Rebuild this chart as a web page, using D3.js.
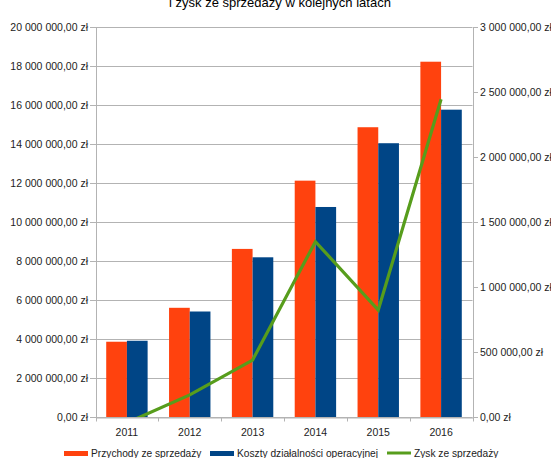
<!DOCTYPE html>
<html>
<head>
<meta charset="utf-8">
<script src="https://cdn.jsdelivr.net/npm/d3@7"></script>
<style>
  body { margin: 0; background: #fff; }
  svg { display: block; font-family: "Liberation Sans", Arial, sans-serif; }
</style>
</head>
<body>
<div id="chart"></div>
<script>
var years = ['2011', '2012', '2013', '2014', '2015', '2016'];
var przychody = [3860000, 5600000, 8620000, 12120000, 14860000, 18220000];
var koszty = [3910000, 5410000, 8190000, 10770000, 14040000, 15760000];
var zysk = [-45000, 170000, 438000, 1349000, 823000, 2444000];
var leftTicks = [0, 2000000, 4000000, 6000000, 8000000, 10000000, 12000000, 14000000, 16000000, 18000000, 20000000];
var rightTicks = [0, 500000, 1000000, 1500000, 2000000, 2500000, 3000000];
var seriesNames = ['Przychody ze sprzedaży', 'Koszty działalności operacyjnej', 'Zysk ze sprzedaży'];
var titleText = 'i zysk ze sprzedaży w kolejnych latach';

var chartW = 551, chartH = 458;
var plotLeft = 95.5, plotRight = 472.5, plotTop = 27, plotBottom = 417;
var colors = ['#ff420e', '#004586', '#579d1c'];
var axisColor = '#b3b3b3';

var pl = d3.formatLocale({decimal: ',', thousands: '\u00a0', grouping: [3], currency: ['', ' zł']});
var fmt = function (v) { return pl.format(',.2f')(v).replace(/\u00a0/g, ' ') + ' zł'; };

var svg = d3.select('#chart').append('svg')
    .attr('width', chartW)
    .attr('height', chartH);

var x = d3.scaleBand().domain(years).range([plotLeft, plotRight]).padding(0);
var yL = d3.scaleLinear().domain([0, 20000000]).range([plotBottom, plotTop]);
var yR = d3.scaleLinear().domain([0, 3000000]).range([plotBottom, plotTop]);

// title (its upper line is outside the picture)
svg.append('text')
    .attr('x', 280)
    .attr('y', 7)
    .attr('text-anchor', 'middle')
    .style('font-size', '13px')
    .style('fill', '#000')
    .text(titleText);

// gridlines
svg.append('g').selectAll('line').data(leftTicks).enter().append('line')
    .attr('x1', plotLeft)
    .attr('x2', plotRight)
    .attr('y1', function (d) { return Math.round(yL(d)) + 0.5; })
    .attr('y2', function (d) { return Math.round(yL(d)) + 0.5; })
    .style('stroke', axisColor)
    .style('stroke-width', 1);

// bars
var barW = 20.7;
var groups = svg.append('g');
[przychody, koszty].forEach(function (vals, s) {
    groups.selectAll('rect.s' + s).data(vals).enter().append('rect')
        .attr('class', 's' + s)
        .attr('x', function (d, i) { return x(years[i]) + x.bandwidth() / 2 - barW + s * barW; })
        .attr('y', function (d) { return yL(d); })
        .attr('width', barW)
        .attr('height', function (d) { return plotBottom - yL(d); })
        .style('fill', colors[s]);
});

// left axis
var axL = svg.append('g')
    .attr('transform', 'translate(' + (plotLeft + 0.5) + ',0)')
    .call(d3.axisLeft(yL).tickValues(leftTicks).tickFormat(fmt).tickSize(6).tickPadding(2));
// right axis
var axR = svg.append('g')
    .attr('transform', 'translate(' + (plotRight + 0.5) + ',0)')
    .call(d3.axisRight(yR).tickValues(rightTicks).tickFormat(fmt).tickSize(5).tickPadding(2));
// bottom axis, ticks between the years
var axB = svg.append('g')
    .attr('transform', 'translate(0,' + (plotBottom + 0.5) + ')')
    .call(d3.axisBottom(x).tickSize(0).tickPadding(11));
axB.selectAll('.boundary').data(years.concat(['end'])).enter().append('line')
    .attr('x1', function (d, i) { return Math.round(plotLeft + i * x.bandwidth()) + 0.5; })
    .attr('x2', function (d, i) { return Math.round(plotLeft + i * x.bandwidth()) + 0.5; })
    .attr('y1', 0)
    .attr('y2', 4)
    .style('stroke', axisColor);

[axL, axR, axB].forEach(function (ax) {
    ax.selectAll('.domain').style('stroke', axisColor);
    ax.selectAll('.tick line').style('stroke', axisColor);
    ax.selectAll('text')
        .style('font-family', '"Liberation Sans", Arial, sans-serif')
        .style('font-size', '10.5px')
        .style('fill', '#222');
});

// profit line, clipped to the plot area
svg.append('clipPath').attr('id', 'plot')
    .append('rect')
    .attr('x', plotLeft).attr('y', plotTop)
    .attr('width', plotRight - plotLeft).attr('height', plotBottom - plotTop);
var line = d3.line()
    .x(function (d, i) { return x(years[i]) + x.bandwidth() / 2; })
    .y(function (d) { return yR(d); });
svg.append('path')
    .datum(zysk)
    .attr('clip-path', 'url(#plot)')
    .attr('d', line)
    .style('fill', 'none')
    .style('stroke', colors[2])
    .style('stroke-width', 3.2)
    .style('stroke-linejoin', 'miter');

// legend
var legendX = [64, 210, 387];
var legend = svg.append('g');
seriesNames.forEach(function (name, s) {
    if (s < 2) {
        legend.append('rect')
            .attr('x', legendX[s])
            .attr('y', 451)
            .attr('width', 24)
            .attr('height', 5)
            .style('fill', colors[s]);
    } else {
        legend.append('line')
            .attr('x1', legendX[s])
            .attr('x2', legendX[s] + 24)
            .attr('y1', 453)
            .attr('y2', 453)
            .style('stroke', colors[s])
            .style('stroke-width', 3);
    }
    legend.append('text')
        .attr('x', legendX[s] + 27)
        .attr('y', 457)
        .style('font-size', '10.2px')
        .style('fill', '#222')
        .text(name);
});
</script>
</body>
</html>
